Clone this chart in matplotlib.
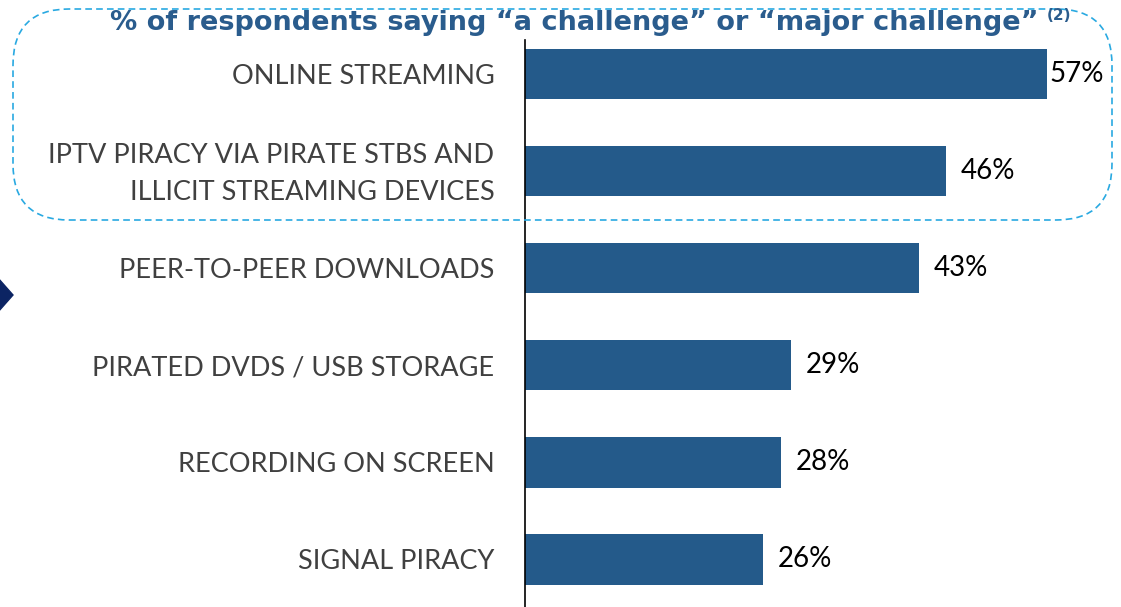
import matplotlib.pyplot as plt
import matplotlib.transforms as mtransforms
from matplotlib.patches import FancyBboxPatch, Polygon

# data
categories = [
    "ONLINE STREAMING",
    "IPTV PIRACY VIA PIRATE STBS AND\nILLICIT STREAMING DEVICES",
    "PEER-TO-PEER DOWNLOADS",
    "PIRATED DVDS / USB STORAGE",
    "RECORDING ON SCREEN",
    "SIGNAL PIRACY",
]
values = [57, 46, 43, 29, 28, 26]
title = "% of respondents saying \u201ca challenge\u201d or \u201cmajor challenge\u201d"

bar_color = "#245A8A"
W, H = 1121, 607

fig = plt.figure(figsize=(W / 100, H / 100), dpi=100)
ax = fig.add_axes([525 / W, 0, 1 - 525 / W, (607 - 40) / H])

y = list(range(len(categories)))
ax.barh(y, values, height=0.52, color=bar_color)
ax.set_xlim(0, (W - 525) / 9.16)
ax.set_ylim(5.49, -0.35)

# value labels; the longest bar's label sits tight to the bar end
for yi, v in zip(y, values):
    off = 0.3 if v == max(values) else 1.6
    ax.text(v + off, yi, f"{v}%", va="center", ha="left", fontsize=20,
            family="Lato", color="black")

ax.set_yticks(y)
ax.set_yticklabels(categories, fontsize=19.5, family="Lato", color="#404040",
                   linespacing=1.6)
ax.tick_params(axis="y", length=0, pad=22)
# nudge two-line labels up a little
for lab in ax.get_yticklabels():
    if "\n" in lab.get_text():
        lab.set_transform(lab.get_transform() +
                          mtransforms.ScaledTranslation(0, 0.06, fig.dpi_scale_trans))
ax.set_xticks([])
for s in ["top", "right", "bottom"]:
    ax.spines[s].set_visible(False)
ax.spines["left"].set_color("black")
ax.spines["left"].set_linewidth(1.2)

# dashed rounded box
box = FancyBboxPatch((13 / W, 1 - 220 / H), (1112 - 13) / W, (220 - 9) / H,
                     boxstyle="round,pad=0,rounding_size=0.05",
                     transform=fig.transFigure, fill=False,
                     edgecolor="#29A9E1", linestyle=(0, (4, 2.5)), linewidth=1.2,
                     mutation_aspect=W / H)
fig.patches.append(box)

# title
fig.text(574 / W, 1 - 23 / H, title, ha="center", va="center", fontsize=19.5,
         fontweight="bold", color="#2A5C8D", family="DejaVu Sans", zorder=5)
fig.text(1047 / W, 1 - 16 / H, "(2)", ha="left", va="center", fontsize=11,
         fontweight="bold", color="#2A5C8D", family="DejaVu Sans")

# arrow marker on left edge
tri = Polygon([(-2 / W, 1 - 278 / H), (13 / W, 1 - 295 / H), (-2 / W, 1 - 312 / H)],
              closed=True, transform=fig.transFigure, color="#0C2463")
fig.patches.append(tri)

fig.savefig("out.png", dpi=100)
